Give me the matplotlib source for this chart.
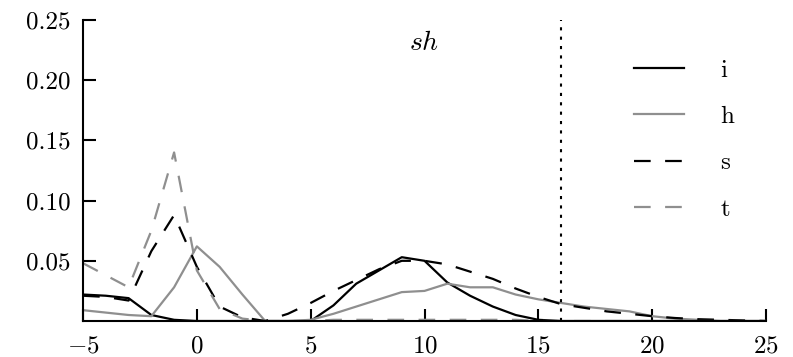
import matplotlib
matplotlib.use('Agg')
import matplotlib.pyplot as plt

plt.rcParams['font.family'] = 'cmr10'
plt.rcParams['mathtext.fontset'] = 'cm'
plt.rcParams['axes.formatter.use_mathtext'] = True

x = list(range(-5, 26))

i_vals = [0.022, 0.021, 0.019, 0.005, 0.001, 0.0, 0.0, 0.0, 0.0, 0.0,
          0.0, 0.013, 0.031, 0.042, 0.053, 0.050, 0.032, 0.021, 0.012, 0.005,
          0.001, 0.0, 0.0, 0.0, 0.0, 0.0, 0.0, 0.0, 0.0, 0.0, 0.0]
h_vals = [0.009, 0.007, 0.005, 0.004, 0.028, 0.062, 0.045, 0.022, 0.0, 0.0,
          0.001, 0.006, 0.012, 0.018, 0.024, 0.025, 0.031, 0.028, 0.028, 0.022,
          0.018, 0.015, 0.012, 0.010, 0.008, 0.004, 0.002, 0.001, 0.0, 0.0, 0.0]
s_vals = [0.021, 0.020, 0.017, 0.058, 0.088, 0.045, 0.012, 0.003, 0.0, 0.006,
          0.015, 0.025, 0.034, 0.043, 0.050, 0.050, 0.047, 0.041, 0.035, 0.027,
          0.020, 0.014, 0.011, 0.008, 0.006, 0.004, 0.0025, 0.0015, 0.001, 0.0005, 0.0]
t_vals = [0.048, 0.038, 0.028, 0.075, 0.140, 0.042, 0.010, 0.002, 0.0, 0.0,
          0.0, 0.001, 0.001, 0.001, 0.001, 0.001, 0.001, 0.001, 0.001, 0.001,
          0.0, 0.0, 0.0, 0.0, 0.0, 0.0, 0.0, 0.0, 0.0, 0.0, 0.0]

threshold = 16
gray = '#8f8f8f'

fig = plt.figure(figsize=(7.93, 3.57), dpi=100)
ax = fig.add_axes([0.1047, 0.1008, 0.8613, 0.8432])

ax.plot(x, i_vals, color='black', lw=1.6, label='i')
ax.plot(x, h_vals, color=gray, lw=1.6, label='h')
ax.plot(x, s_vals, color='black', lw=1.6, dashes=(7.5, 6.5), label='s')
ax.plot(x, t_vals, color=gray, lw=1.6, dashes=(7.5, 6.5), label='t')
ax.axvline(threshold, color='black', lw=1.5, dashes=(1.5, 3))

ax.set_xlim(-5, 25)
ax.set_ylim(0, 0.25)
ax.set_xticks([-5, 0, 5, 10, 15, 20, 25])
ax.set_yticks([0.05, 0.10, 0.15, 0.20, 0.25])
ax.set_yticklabels(['0.05', '0.10', '0.15', '0.20', '0.25'])
ax.spines['top'].set_visible(False)
ax.spines['right'].set_visible(False)
ax.spines['left'].set_linewidth(1.5)
ax.spines['bottom'].set_linewidth(1.5)
ax.tick_params(direction='in', length=9, width=1.5, labelsize=18)
ax.tick_params(axis='x', pad=10)
ax.tick_params(axis='y', pad=9)

ax.text(0.5, 0.9, '$sh$', transform=ax.transAxes, fontsize=20, ha='center')
ax.legend(loc='upper left', frameon=False, fontsize=18, handlelength=2.0,
          handletextpad=1.45, labelspacing=0.95,
          bbox_to_anchor=(0.771, 0.897), bbox_transform=fig.transFigure)

fig.savefig('out.png', dpi=100)
